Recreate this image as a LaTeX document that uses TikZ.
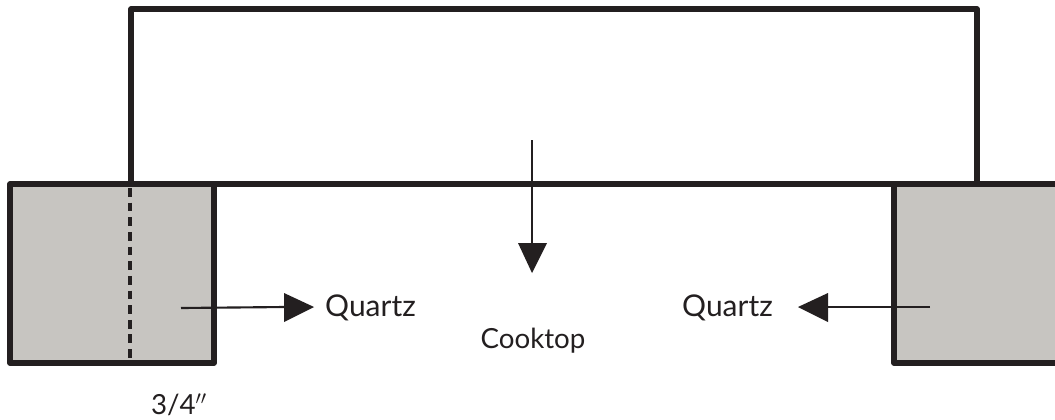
\documentclass[tikz,border=0pt]{standalone}
\usepackage{fontspec}
\setmainfont{Lato}
\usetikzlibrary{positioning}
\definecolor{quartzgray}{RGB}{199,197,193}
\definecolor{linegray}{RGB}{35,31,32}
\tikzset{
	wall/.style={draw=linegray,line width=3.9pt,line join=round},
	slab/.style={wall,fill=quartzgray},
	pointer/.style={draw=linegray,line width=1.6pt},
	tip/.style={fill=linegray},
	label/.style={text=linegray,font=\fontsize{22.5pt}{24pt}\selectfont,inner sep=0pt},
	smalllabel/.style={label,font=\fontsize{20.8pt}{24pt}\selectfont}
}
\begin{document}
\begin{tikzpicture}[x=0.0264cm,y=-0.0264cm]
	\useasboundingbox (0,0) rectangle (1055,419);
	\fill[white] (0,0) rectangle (1055,419);
	% slabs
	\draw[slab] (10,184) rectangle (214,363);
	\draw[slab] (1062,184) -- (894,184) -- (894,363) -- (1062,363);
	% cabinet
	\draw[wall] (131,184) -- (131,9) -- (977,9) -- (977,184);
	\draw[wall] (214,184) -- (894,184);
	\draw[linegray,line width=3.4pt,dash pattern=on 6.6pt off 4.4pt] (130,188) -- (130,358);
	% labels
	\node[label] (quartzL) at (370.5,308) {Quartz};
	\node[label] (quartzR) at (727.5,308) {Quartz};
	\node[smalllabel] (cooktop) at (533,341) {Cooktop};
	\node[smalllabel] (gap) at (179,405) {3/4$''$};
	% arrows
	\coordinate (startL) at (181,308);
	\coordinate (tipL) at (314,307);
	\coordinate (startR) at (930,307);
	\coordinate (tipR) at (798,307);
	\coordinate (startC) at (532,140);
	\coordinate (tipC) at (532,273);
	\draw[pointer] (startL) -- (285,307);
	\fill[tip] (tipL) -- (284,293) -- (284,322) -- cycle;
	\draw[pointer] (startR) -- (828,307);
	\fill[tip] (tipR) -- (828,293) -- (828,322) -- cycle;
	\draw[pointer] (startC) -- (532,243);
	\fill[tip] (tipC) -- (518,243) -- (547,243) -- cycle;
\end{tikzpicture}
\end{document}
